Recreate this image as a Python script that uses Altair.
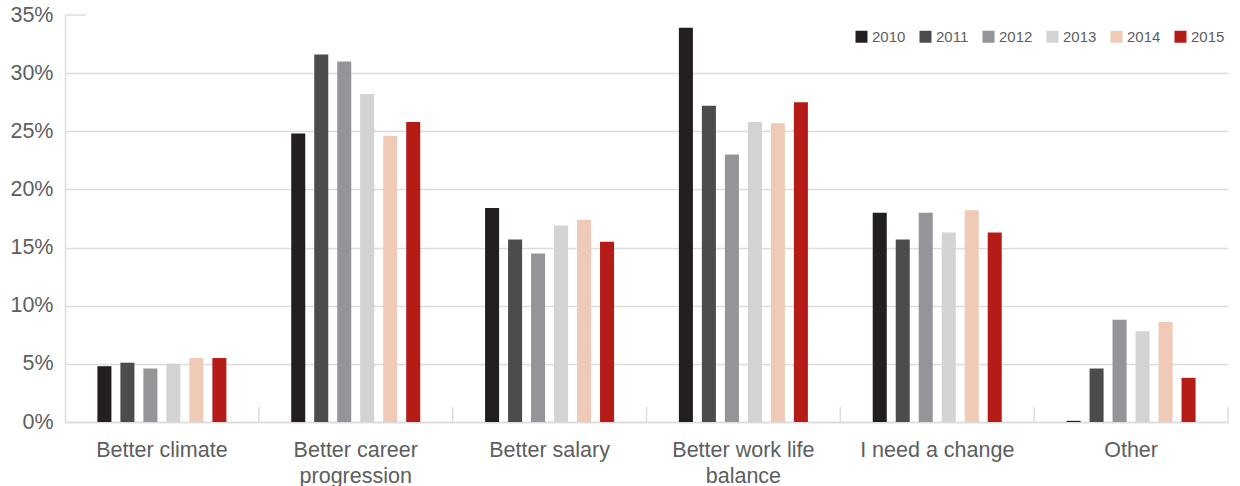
import altair as alt
import pandas as pd

# Reasons for moving, share of respondents per survey year
categories = [
    "Better climate",
    "Better career progression",
    "Better salary",
    "Better work life balance",
    "I need a change",
    "Other",
]
years = ["2010", "2011", "2012", "2013", "2014", "2015"]
colors = ["#231f20", "#4b4c4e", "#939598", "#d1d3d4", "#efcab7", "#b51c18"]

pct_2010 = [4.8, 24.8, 18.4, 33.9, 18.0, 0.1]
pct_2011 = [5.1, 31.6, 15.7, 27.2, 15.7, 4.6]
pct_2012 = [4.6, 31.0, 14.5, 23.0, 18.0, 8.8]
pct_2013 = [5.0, 28.2, 16.9, 25.8, 16.3, 7.8]
pct_2014 = [5.5, 24.6, 17.4, 25.7, 18.2, 8.6]
pct_2015 = [5.5, 25.8, 15.5, 27.5, 16.3, 3.8]

series = [pct_2010, pct_2011, pct_2012, pct_2013, pct_2014, pct_2015]

rows = []
for year, vals in zip(years, series):
    for cat, v in zip(categories, vals):
        rows.append({"category": cat, "year": year, "value": v / 100})
df = pd.DataFrame(rows)
cats_df = pd.DataFrame({"category": categories})

# two-line axis labels
wrapped = {
    "Better career progression": ["Better career", "progression"],
    "Better work life balance": ["Better work life", "balance"],
}
label_expr = ""
for name, lines in wrapped.items():
    label_expr += "datum.label == '%s' ? [%s] : " % (
        name, ", ".join("'%s'" % s for s in lines))
label_expr += "datum.label"

FONT = "Liberation Sans"
TEXT = "#5d5e60"
GRID = "#dcdcdd"

x_enc = alt.X(
    "category:N",
    sort=categories,
    scale=alt.Scale(paddingInner=0, paddingOuter=0),
    axis=alt.Axis(
        title=None,
        labelAngle=0,
        labelFontSize=21.5,
        labelFont=FONT,
        labelColor=TEXT,
        labelPadding=17,
        labelLineHeight=26,
        labelExpr=label_expr,
        ticks=False,
        domainColor=GRID,
        domainWidth=1.5,
        grid=False,
    ),
)

bars = alt.Chart(df).mark_bar().encode(
    x=x_enc,
    xOffset=alt.XOffset(
        "year:N",
        sort=years,
        scale=alt.Scale(range=[32.4, 161.4], paddingInner=0.39, paddingOuter=0),
    ),
    y=alt.Y(
        "value:Q",
        scale=alt.Scale(domain=[0, 0.35], nice=False),
        axis=alt.Axis(
            title=None,
            values=[0, 0.05, 0.10, 0.15, 0.20, 0.25, 0.30, 0.35],
            format=".0%",
            labelFontSize=21.5,
            labelFont=FONT,
            labelColor=TEXT,
            labelPadding=12,
            ticks=False,
            domainColor=GRID,
            domainWidth=1.5,
            gridColor=GRID,
            gridWidth=1.5,
            gridOpacity={"condition": {"test": "datum.value >= 0.35", "value": 0}, "value": 1},
        ),
    ),
    color=alt.Color(
        "year:N",
        sort=years,
        scale=alt.Scale(domain=years, range=colors),
        legend=alt.Legend(
            title=None,
            orient="none",
            legendX=789,
            legendY=14,
            direction="horizontal",
            columns=6,
            symbolType="square",
            symbolSize=144,
            symbolStrokeWidth=0,
            labelFontSize=15,
            labelFont=FONT,
            labelColor=TEXT,
            labelOffset=3,
            columnPadding=12,
            padding=0,
        ),
    ),
)

# group separators rising from the baseline
separators = alt.Chart(cats_df).mark_rule(color=GRID, strokeWidth=1.5).encode(
    x=alt.X("category:N", sort=categories, bandPosition=1),
    y=alt.value(392),
    y2=alt.value(407),
)

# short stub at the top of the value axis
stub = alt.Chart(cats_df.head(1)).mark_rule(color=GRID, strokeWidth=1.5).encode(
    y=alt.YDatum(0.35, type="quantitative"),
    x=alt.value(0),
    x2=alt.value(21),
)

chart = (
    alt.layer(bars, separators, stub)
    .properties(
        width=1163,
        height=407,
        padding={"left": 65, "top": 15, "right": 12, "bottom": 64},
        autosize=alt.AutoSizeParams(type="none"),
        background="white",
    )
    .configure_view(strokeWidth=0)
)

chart.save("out.html", embed_options={"renderer": "svg", "actions": False})
